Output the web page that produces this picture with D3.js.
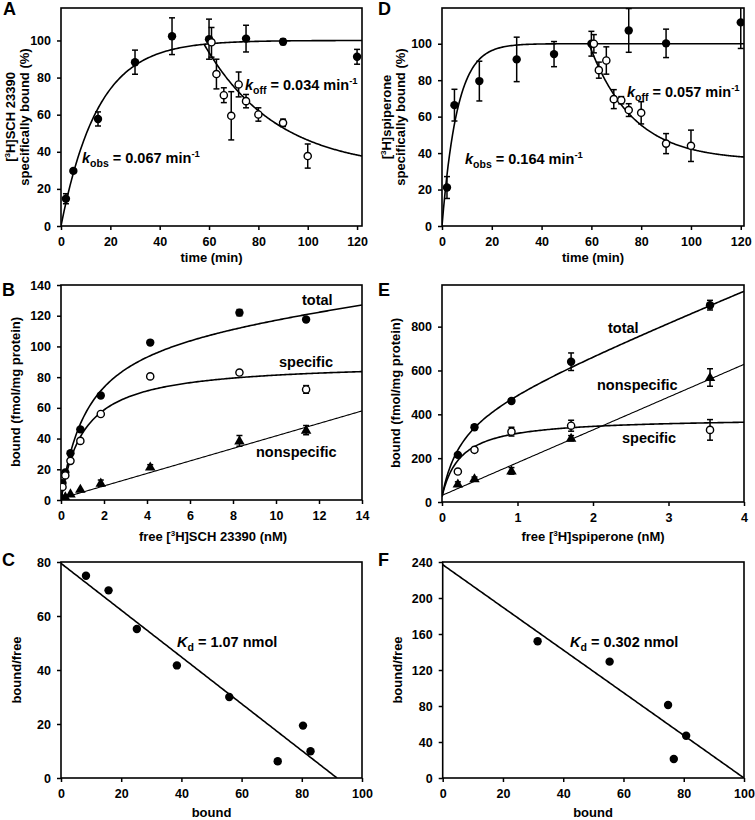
<!DOCTYPE html>
<html><head><meta charset="utf-8">
<script src="https://cdn.jsdelivr.net/npm/d3@7"></script>
<style>
body{margin:0;background:#fff}
text{font-family:"Liberation Sans",Arial,Helvetica,sans-serif;font-weight:bold;fill:#000}
</style></head>
<body><svg id="c" width="755" height="820"></svg>
<script>
// ---------------- DATA ----------------
// Panel A: [3H]SCH 23390 kinetics
const timeA_assoc = [2,5,15,30,45,60,75,90,120];
const A_assoc     = [14.7,29.7,57.7,88.3,102.3,100.7,101,99.3,91.2];
const A_assocErr  = [2.7,1,3.8,6.5,9.9,10.8,7.2,1.5,4];
const timeA_diss  = [61,63,66,69,72,75,80,90,100];
const A_diss      = [99,81.9,70.5,59.4,76.3,67.3,60.1,55.6,37.7];
const A_dissErr   = [8,8,4,13,6.7,3.6,3.6,2,6.5];
const kobsA = 0.067, koffA = 0.034, t0A = 58, plateauA = 30;

// Panel D: [3H]spiperone kinetics
const timeD_assoc = [2,5,15,30,45,60,75,90,120];
const D_assoc     = [21.1,66.3,79.5,91.4,94.3,100,107.3,100.2,111.7];
const D_assocErr  = [6,8.7,10.9,12.2,6.9,6.8,12,7.8,14.3];
const timeD_diss  = [61,63,66,69,72,75,80,90,100];
const D_diss      = [100,85.5,90.8,69.6,69,63.6,62.1,45.2,44];
const D_dissErr   = [5,4.4,7.5,5.2,2,3.5,6.1,5.5,8.6];
const kobsD = 0.164, koffD = 0.057, t0D = 59, plateauD = 36;

// Panel B: saturation [3H]SCH 23390
const freeB      = [0.07,0.2,0.44,0.9,1.85,4.15,8.3,11.4];
const totalB     = [11,18,30.5,46,68,102.5,122,117.5];
const totalBErr  = [0,0,0,0,1,1,2,1];
const specB      = [8.5,16,25.5,38.5,56,80.5,83,72];
const specBErr   = [0,0,0,0,1,1,1,2.5];
const nonspecB   = [1,2,4,7,11,21.5,38.5,45.5];
const nonspecBErr= [0,0,0,0,2,1.5,3.5,3];
const fitB = {totB:112, totK:1.2, totS:1.7, spB:90, spK:1.07, nsI:1, nsS:4.07};

// Panel E: saturation [3H]spiperone
const freeE      = [0.21,0.43,0.92,1.71,3.55];
const totalE     = [215,341,461,640,898];
const totalEErr  = [8,10,10,40,22];
const specE      = [139,238,321,348,329];
const specEErr   = [8,8,20,25,47];
const nonspecE   = [82,106,142,291,568];
const nonspecEErr= [10,8,15,12,40];
const fitE = {c:25, totB:400, totK:0.25, totS:140, spB:360, spK:0.25, nsI:30, nsS:149.5};

// Panel C / F: Scatchard
const boundC = [8.3,15.8,25.2,38.5,55.9,72,80.4,82.9];
const bfC    = [74.9,69.5,55.2,41.7,30,6.2,19.4,9.9];
const lineC  = {y0:79.5, xint:91.7};
const boundF = [31.5,55.4,74.8,80.8,76.7];
const bfF    = [151.9,129.3,81.1,47,21.1];
const lineF  = {y0:237, xint:100};

// tick labels
const ticksTime  = [0,20,40,60,80,100,120];
const ticksPct   = [0,20,40,60,80,100];
const ticksFreeB = [0,2,4,6,8,10,12,14];
const ticksBoundB= [0,20,40,60,80,100,120,140];
const ticksFreeE = [0,1,2,3,4];
const ticksBoundE= [0,200,400,600,800];
const ticksBound = [0,20,40,60,80,100];
const ticksBFC   = [0,20,40,60,80];
const ticksBFF   = [0,40,80,120,160,200,240];

// ---------------- DRAW ----------------
const svg = d3.select('#c');
svg.append('rect').attr('width',755).attr('height',820).attr('fill','#fff');

function panel(id, box, xd, yd, xt, yt){
  const x = d3.scaleLinear().domain(xd).range([box.l, box.r]);
  const y = d3.scaleLinear().domain(yd).range([box.b, box.t]);
  const g = svg.append('g');
  g.append('clipPath').attr('id','clip'+id).append('rect')
    .attr('x',box.l).attr('y',box.t).attr('width',box.r-box.l).attr('height',box.b-box.t);
  const fmt = d=>String(d);
  const ax = g.append('g').attr('transform',`translate(0,${box.b})`)
    .call(d3.axisBottom(x).tickValues(xt).tickFormat(fmt).tickSize(4).tickPadding(7).tickSizeOuter(0));
  const ay = g.append('g').attr('transform',`translate(${box.l},0)`)
    .call(d3.axisLeft(y).tickValues(yt).tickFormat(fmt).tickSize(4).tickPadding(6).tickSizeOuter(0));
  [ax,ay].forEach(a=>{
    a.select('.domain').remove();
    a.selectAll('line').attr('stroke','#000').attr('stroke-width',1.5);
    a.selectAll('text').style('font-size','12.5px').attr('font-family',null);
  });
  g.append('rect').attr('x',box.l).attr('y',box.t).attr('width',box.r-box.l).attr('height',box.b-box.t)
    .attr('fill','none').attr('stroke','#000').attr('stroke-width',1.6);
  const plot = g.append('g').attr('clip-path',`url(#clip${id})`);
  return {x,y,g,plot};
}

function curve(p, f, x0, x1, w){
  const xs = d3.range(0,201).map(i=>x0+(x1-x0)*i/200);
  p.plot.append('path').datum(xs)
    .attr('d', d3.line().x(d=>p.x(d)).y(d=>p.y(f(d))))
    .attr('fill','none').attr('stroke','#000').attr('stroke-width',w||1.6);
}
function errbars(p, xs, ys, es){
  const gg = p.plot.append('g').attr('stroke','#000').attr('stroke-width',1.5);
  xs.forEach((xv,i)=>{
    const e = es[i]; if(!e) return;
    const cx = p.x(xv), yt = p.y(ys[i]+e), yb = p.y(ys[i]-e);
    gg.append('line').attr('x1',cx).attr('x2',cx).attr('y1',yt).attr('y2',yb);
    gg.append('line').attr('x1',cx-3).attr('x2',cx+3).attr('y1',yt).attr('y2',yt);
    gg.append('line').attr('x1',cx-3).attr('x2',cx+3).attr('y1',yb).attr('y2',yb);
  });
}
function markers(p, xs, ys, type){
  const gg = p.plot.append('g');
  xs.forEach((xv,i)=>{
    const cx=p.x(xv), cy=p.y(ys[i]);
    if(type==='filled') gg.append('circle').attr('cx',cx).attr('cy',cy).attr('r',4.2).attr('fill','#000');
    else if(type==='open') gg.append('circle').attr('cx',cx).attr('cy',cy).attr('r',3.6).attr('fill','#fff').attr('stroke','#000').attr('stroke-width',1.4);
    else gg.append('path').attr('d',d3.symbol(d3.symbolTriangle,48)()).attr('transform',`translate(${cx},${cy+0.5})`).attr('fill','#000');
  });
}
function letter(t,x,y){ svg.append('text').attr('x',x).attr('y',y).style('font-size','18px').text(t); }
function kText(x,y,main,sub,rest,sup){
  const t = svg.append('text').attr('x',x).attr('y',y).style('font-size','14.5px');
  t.append('tspan').style('font-style','italic').text(main);
  t.append('tspan').attr('dy',3.5).style('font-size','10.5px').text(sub);
  t.append('tspan').attr('dy',-3.5).text(rest);
  if(sup) t.append('tspan').attr('dy',-6).style('font-size','9.5px').text(sup);
}
function plain(x,y,s){ svg.append('text').attr('x',x).attr('y',y).style('font-size','14.5px').text(s); }
function xTitle(cx,y,parts){
  const t = svg.append('text').attr('x',cx).attr('y',y).attr('text-anchor','middle').style('font-size','13px');
  parts.forEach(pt=>{
    if(pt.sup) t.append('tspan').attr('dy',-5).style('font-size','8px').text(pt.s);
    else t.append('tspan').attr('dy',pt.after?5:0).text(pt.s);
  });
}
function yTitle(x,cy,parts){
  const t = svg.append('text').attr('transform',`translate(${x},${cy}) rotate(-90)`).attr('text-anchor','middle').style('font-size','13px');
  parts.forEach(pt=>{
    if(pt.sup) t.append('tspan').attr('dy',-5).style('font-size','8px').text(pt.s);
    else t.append('tspan').attr('dy',pt.after?5:0).text(pt.s);
  });
}

// ---- Panel A ----
{
  const p = panel('A',{l:61,r:362,t:8,b:226},[0,122],[0,117.5],ticksTime,ticksPct);
  const assoc = t=>100*(1-Math.exp(-kobsA*t));
  curve(p, assoc, 0, 122);
  const y0 = assoc(t0A);
  curve(p, t=>plateauA+(y0-plateauA)*Math.exp(-koffA*(t-t0A)), t0A, 122);
  errbars(p,timeA_assoc,A_assoc,A_assocErr);
  errbars(p,timeA_diss,A_diss,A_dissErr);
  markers(p,timeA_assoc,A_assoc,'filled');
  markers(p,timeA_diss,A_diss,'open');
  letter('A',3,15);
  kText(82,163,'k','obs',' = 0.067 min','-1');
  kText(245,90,'k','off',' = 0.034 min','-1');
  xTitle(211.5,262,[{s:'time (min)'}]);
  yTitle(15,117,[{s:'['},{s:'3',sup:true},{s:'H]SCH 23390',after:true}]);
  yTitle(28.5,117,[{s:'specifically bound (%)'}]);
}
// ---- Panel D ----
{
  const p = panel('D',{l:442,r:744,t:8,b:226},[0,121.3],[0,119.6],ticksTime,ticksPct);
  const assoc = t=>100*(1-Math.exp(-kobsD*t));
  curve(p, assoc, 0, 121.3);
  const y0 = assoc(t0D);
  curve(p, t=>plateauD+(y0-plateauD)*Math.exp(-koffD*(t-t0D)), t0D, 121.3);
  errbars(p,timeD_assoc,D_assoc,D_assocErr);
  errbars(p,timeD_diss,D_diss,D_dissErr);
  markers(p,timeD_assoc,D_assoc,'filled');
  markers(p,timeD_diss,D_diss,'open');
  letter('D',378,15);
  kText(465,164,'k','obs',' = 0.164 min','-1');
  kText(627,97,'k','off',' = 0.057 min','-1');
  xTitle(593,262,[{s:'time (min)'}]);
  yTitle(391,117,[{s:'['},{s:'3',sup:true},{s:'H]spiperone',after:true}]);
  yTitle(404.5,117,[{s:'specifically bound (%)'}]);
}
// ---- Panel B ----
{
  const p = panel('B',{l:61,r:362,t:285,b:500},[0,14],[0,140],ticksFreeB,ticksBoundB);
  curve(p, x=>fitB.totB*x/(fitB.totK+x)+fitB.totS*x, 0, 14);
  curve(p, x=>fitB.spB*x/(fitB.spK+x), 0, 14);
  curve(p, x=>fitB.nsI+fitB.nsS*x, 0, 14, 1.1);
  errbars(p,freeB,totalB,totalBErr);
  errbars(p,freeB,specB,specBErr);
  errbars(p,freeB,nonspecB,nonspecBErr);
  markers(p,freeB,nonspecB,'tri');
  markers(p,freeB,totalB,'filled');
  markers(p,freeB,specB,'open');
  letter('B',2,296);
  plain(302,305,'total');
  plain(279,367,'specific');
  plain(256,457,'nonspecific');
  xTitle(213,541,[{s:'free ['},{s:'3',sup:true},{s:'H]SCH 23390 (nM)',after:true}]);
  yTitle(19.5,392,[{s:'bound (fmol/mg protein)'}]);
}
// ---- Panel E ----
{
  const p = panel('E',{l:442,r:744,t:285,b:502},[0,4],[0,990],ticksFreeE,ticksBoundE);
  curve(p, x=>fitE.c+fitE.totB*x/(fitE.totK+x)+fitE.totS*x, 0, 4);
  curve(p, x=>fitE.c+fitE.spB*x/(fitE.spK+x), 0, 4);
  curve(p, x=>fitE.nsI+fitE.nsS*x, 0, 4, 1.1);
  errbars(p,freeE,totalE,totalEErr);
  errbars(p,freeE,specE,specEErr);
  errbars(p,freeE,nonspecE,nonspecEErr);
  markers(p,freeE,nonspecE,'tri');
  markers(p,freeE,totalE,'filled');
  markers(p,freeE,specE,'open');
  letter('E',378,296);
  plain(608,333,'total');
  plain(597,390,'nonspecific');
  plain(622,443,'specific');
  xTitle(593,541,[{s:'free ['},{s:'3',sup:true},{s:'H]spiperone (nM)',after:true}]);
  yTitle(400,393,[{s:'bound (fmol/mg protein)'}]);
}
// ---- Panel C ----
{
  const p = panel('C',{l:61,r:362,t:562,b:778},[0,100],[0,80],ticksBound,ticksBFC);
  curve(p, x=>lineC.y0*(1-x/lineC.xint), 0, lineC.xint);
  markers(p,boundC,bfC,'filled');
  letter('C',2,566);
  kText(177,647,'K','d',' = 1.07 nmol');
  xTitle(211.5,817,[{s:'bound'}]);
  yTitle(20.5,670,[{s:'bound/free'}]);
}
// ---- Panel F ----
{
  const p = panel('F',{l:442.7,r:744,t:562,b:778},[0,100],[0,240],ticksBound,ticksBFF);
  curve(p, x=>lineF.y0*(1-x/lineF.xint), 0, lineF.xint);
  markers(p,boundF,bfF,'filled');
  letter('F',378,566);
  kText(570,647,'K','d',' = 0.302 nmol');
  xTitle(593,817,[{s:'bound'}]);
  yTitle(402,670,[{s:'bound/free'}]);
}
</script></body></html>
